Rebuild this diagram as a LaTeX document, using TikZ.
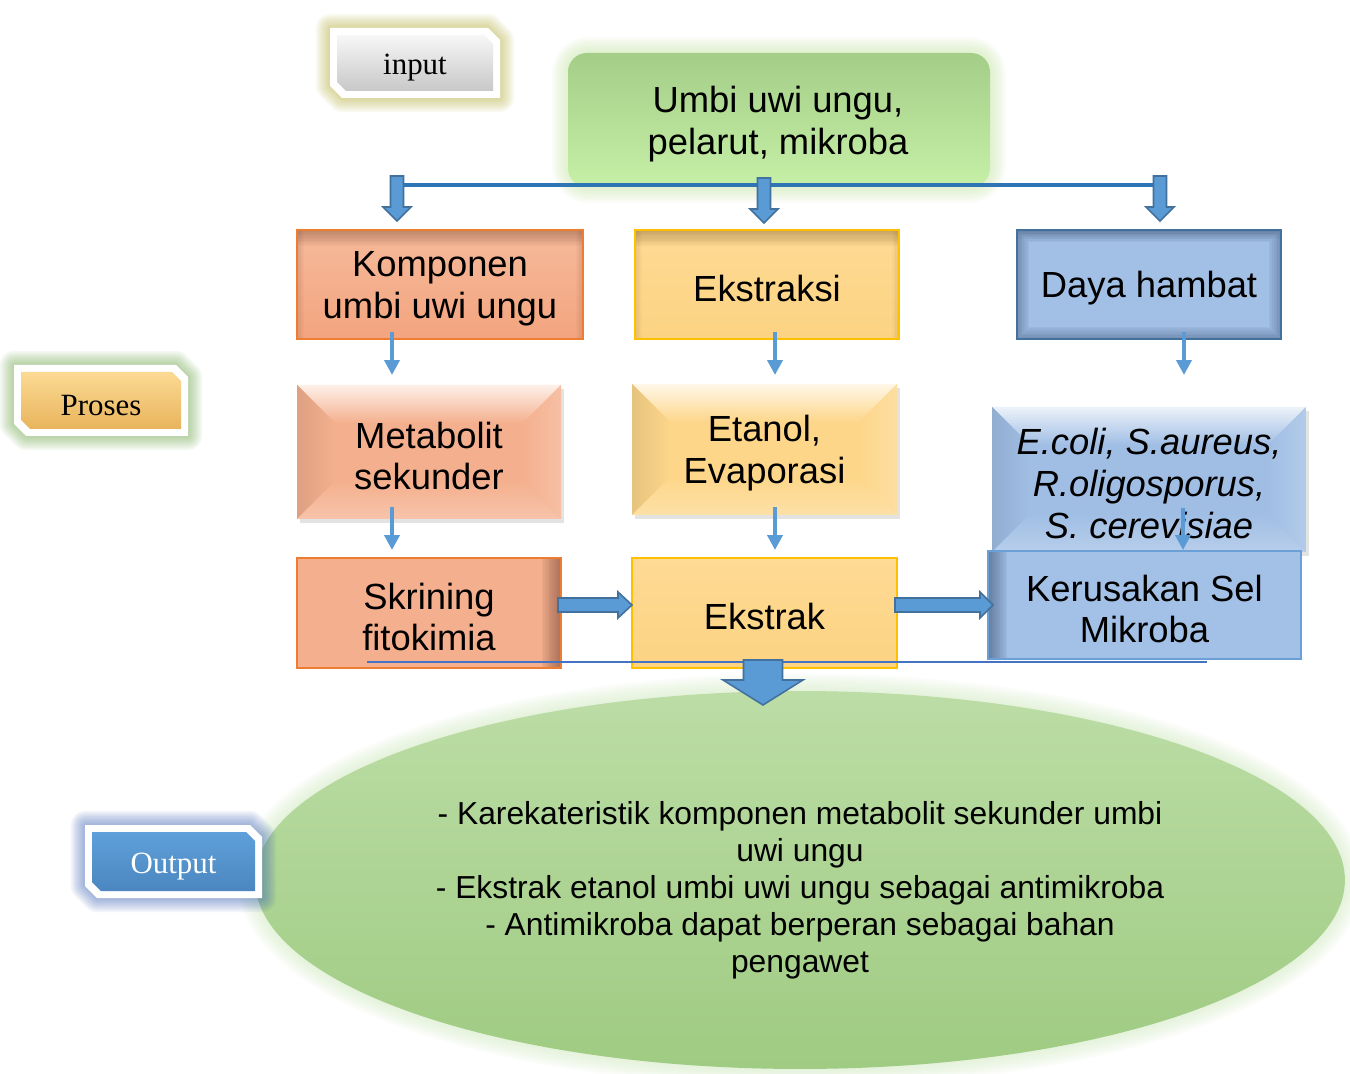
\documentclass[tikz,border=0pt]{standalone}
\usepackage{fontspec}
\setmainfont{Liberation Sans}
\newfontfamily\lblfont{Liberation Serif}
\usetikzlibrary{arrows.meta,shapes.geometric,shadows}

\definecolor{salm}{HTML}{F4B08E}
\definecolor{salmT}{HTML}{F6BA9A}
\definecolor{salmB}{HTML}{F3A47F}
\definecolor{salmE}{HTML}{ED7D31}
\definecolor{salmD}{HTML}{6E4030}
\definecolor{yel}{HTML}{FDD68A}
\definecolor{yelT}{HTML}{FEDA94}
\definecolor{yelB}{HTML}{FCD382}
\definecolor{yelE}{HTML}{FFC000}
\definecolor{yelD}{HTML}{7A5A28}
\definecolor{blu}{HTML}{A0BEE4}
\definecolor{bluK}{HTML}{A3C0E6}
\definecolor{bluH}{HTML}{A2BFE5}
\definecolor{bluE}{HTML}{41719C}
\definecolor{bluE2}{HTML}{6A9FD8}
\definecolor{bluD}{HTML}{2E4666}
\definecolor{arrF}{HTML}{5B9BD5}
\definecolor{arrE}{HTML}{41719C}
\definecolor{lineC}{HTML}{2E75B6}
\definecolor{line2}{HTML}{4472C4}
\definecolor{grnT}{HTML}{A4CE88}
\definecolor{grnB}{HTML}{C6F0A6}
\definecolor{grnGlow}{HTML}{CDEBB0}
\definecolor{ovT}{HTML}{BCDDA6}
\definecolor{ovB}{HTML}{9FCB82}
\definecolor{ovGlow}{HTML}{D8EFC8}
\definecolor{glowY}{HTML}{B8B23C}
\definecolor{glowG}{HTML}{6FA848}
\definecolor{glowB}{HTML}{3F66B8}
\definecolor{inT}{HTML}{F7F7F7}
\definecolor{inB}{HTML}{C8C8C8}
\definecolor{prT}{HTML}{FCDA94}
\definecolor{prB}{HTML}{E8B45C}
\definecolor{ouT}{HTML}{5FA0DA}
\definecolor{ouB}{HTML}{4B86C0}

\newcommand\chamf[5]{(#1,#2) -- ({#3-#5},#2) -- (#3,{#2+#5}) -- (#3,#4) -- ({#1+#5},#4) -- (#1,{#4-#5}) -- cycle}
\newcommand\mkbox[7]{%
  \node[#6, minimum width={(#4-#2)*0.02cm}, minimum height={(#5-#3)*0.02cm}, inner sep=0pt] (#1) at ({(#2+#4)/2},{(#3+#5)/2}) {};
  \node[boxtxt] (#1-t) at ({(#2+#4)/2},{(#3+#5)/2+4}) {#7};}
\newcommand\darrow[6]{\filldraw[blk] ({#1-#4},#2) -- ({#1+#4},#2) -- ({#1+#4},{#3-#6}) -- ({#1+#5},{#3-#6}) -- (#1,#3) -- ({#1-#5},{#3-#6}) -- ({#1-#4},{#3-#6}) -- cycle;}
\newcommand\rarrow[6]{\filldraw[blk] (#1,{#3-#4}) -- ({#2-#6},{#3-#4}) -- ({#2-#6},{#3-#5}) -- (#2,#3) -- ({#2-#6},{#3+#5}) -- ({#2-#6},{#3+#4}) -- (#1,{#3+#4}) -- cycle;}
\newcommand\lbl[9]{%
  \foreach \w in {2,4,...,16}{\draw[#5, line width=\w pt, opacity=0.07, line join=round] \chamf{#1}{#2}{#3}{#4}{12};}
  \fill[white] \chamf{#1}{#2}{#3}{#4}{12};
  \shade[top color=#6, bottom color=#7] \chamf{#1+7}{#2+7}{#3-7}{#4-7}{9};
  \node[lbltxt] (#8) at ({(#1+#3)/2},{(#2+#4)/2+5}) {#9};
}

\begin{document}
\begin{tikzpicture}[x=0.02cm,y=-0.02cm,
  boxtxt/.style={font=\fontsize{20.7}{23.8}\selectfont, align=center, text=black},
  ovtxt/.style={font=\fontsize{18.1}{21}\selectfont, align=center, text=black},
  lbltxt/.style={font=\lblfont\fontsize{17.6}{20}\selectfont},
  thinarr/.style={draw=arrF, line width=2.2pt, -{Triangle[width=8.5pt,length=8.5pt]}},
  blk/.style={fill=arrF, draw=arrE, line width=0.9pt, line join=miter},
  topsh/.style={path picture={\foreach \w in {2,4,...,18}{\draw[#1,line width=\w pt,opacity=0.05] (path picture bounding box.north west) -- (path picture bounding box.north east);}
     \foreach \w in {2,4,...,8}{\draw[#1,line width=\w pt,opacity=0.04] (path picture bounding box.north west) -- (path picture bounding box.south west) (path picture bounding box.north east) -- (path picture bounding box.south east);}}},
  rightsh/.style={path picture={\foreach \w in {2,4,...,22}{\draw[#1,line width=\w pt,opacity=0.06] (path picture bounding box.north east) -- (path picture bounding box.south east);}}},
  leftsh/.style={path picture={\foreach \w in {2,4,...,22}{\draw[#1,line width=\w pt,opacity=0.06] (path picture bounding box.north west) -- (path picture bounding box.south west);}}},
  allsh/.style={path picture={\foreach \w in {2,4,...,14}{\draw[#1,line width=\w pt,opacity=0.06] (path picture bounding box.north west) rectangle (path picture bounding box.south east);}
     \foreach \w in {2,4,...,10}{\draw[#1,line width=\w pt,opacity=0.04] (path picture bounding box.north west) -- (path picture bounding box.north east);}}},
  bevel/.style={fill=#1, drop shadow={opacity=0.22, shadow xshift=1.5pt, shadow yshift=-2pt},
    path picture={
      \coordinate (bNW) at (path picture bounding box.north west);
      \coordinate (bNE) at (path picture bounding box.north east);
      \coordinate (bSW) at (path picture bounding box.south west);
      \coordinate (bSE) at (path picture bounding box.south east);
      \shade[top color=white!80!#1, bottom color=#1] (bNW) -- (bNE) -- ([xshift=-0.76cm,yshift=-0.76cm]bNE) -- ([xshift=0.76cm,yshift=-0.76cm]bNW) -- cycle;
      \shade[left color=black!9!#1, right color=#1] (bNW) -- ([xshift=0.76cm,yshift=-0.76cm]bNW) -- ([xshift=0.76cm,yshift=0.76cm]bSW) -- (bSW) -- cycle;
      \shade[top color=#1, bottom color=white!25!#1] (bSW) -- ([xshift=0.76cm,yshift=0.76cm]bSW) -- ([xshift=-0.76cm,yshift=0.76cm]bSE) -- (bSE) -- cycle;
      \shade[left color=#1, right color=white!20!#1] (bNE) -- ([xshift=-0.76cm,yshift=-0.76cm]bNE) -- ([xshift=-0.76cm,yshift=0.76cm]bSE) -- (bSE) -- cycle;
    }}
]
\useasboundingbox (0,0) rectangle (1350,1074);
\fill[white] (0,0) rectangle (1350,1074);

% ---------- top source box ----------
\foreach \w in {2,4,...,18}{\draw[grnGlow, line width=\w pt, opacity=0.08, rounded corners=0.4cm] (568,53) rectangle (990,187);}
\shade[top color=grnT, middle color=grnT, bottom color=grnB, rounded corners=0.38cm] (568,53) rectangle (990,187);
\node[boxtxt] (src) at (778,124) {Umbi uwi ungu,\\pelarut, mikroba};

% distribution line and arrows
\coordinate (dl) at (397,185);
\coordinate (dr) at (1160,185);
\draw[lineC, line width=2.3pt] (dl) -- (dr);
\darrow{397}{176}{221}{6.5}{14}{14}
\darrow{764}{178}{223}{6.5}{14}{14}
\darrow{1160}{176}{221}{6.5}{14}{14}

% ---------- row 1 ----------
\mkbox{kom}{297}{230}{583}{339}{draw=salmE, line width=0.9pt, top color=salmT, bottom color=salmB, topsh=salmD}{Komponen\\umbi uwi ungu}
\mkbox{eks}{635}{230}{899}{339}{draw=yelE, line width=0.9pt, top color=yelT, bottom color=yelB, topsh=yelD}{Ekstraksi}
\mkbox{daya}{1017}{230}{1281}{339}{draw=bluE, line width=0.9pt, fill=bluH, allsh=bluD}{Daya hambat}

% ---------- row 2 ----------
\mkbox{meta}{297}{385}{561}{519}{bevel=salm}{Metabolit\\sekunder}
\mkbox{etan}{632}{384}{897}{515}{bevel=yel}{Etanol,\\Evaporasi}
\mkbox{ecol}{992}{407}{1306}{552}{bevel=blu}{\itshape E.coli, S.aureus,\\\itshape R.oligosporus,\\\itshape S. cerevisiae}

% ---------- row 3 ----------
\mkbox{skr}{297}{558}{561}{668}{draw=salmE, line width=0.9pt, fill=salm, rightsh=salmD}{Skrining\\fitokimia}
\mkbox{ekst}{632}{558}{897}{668}{draw=yelE, line width=0.9pt, top color=yelT, bottom color=yelB}{Ekstrak}
\mkbox{ker}{988}{551}{1301}{659}{draw=bluE2, line width=0.9pt, fill=bluK, leftsh=bluD}{Kerusakan Sel\\Mikroba}

% thin arrows
\coordinate (t1a) at (392,332); \coordinate (t1b) at (392,375);
\coordinate (t2a) at (775,332); \coordinate (t2b) at (775,375);
\coordinate (t3a) at (1184,332); \coordinate (t3b) at (1184,375);
\coordinate (t4a) at (392,507); \coordinate (t4b) at (392,550);
\coordinate (t5a) at (775,507); \coordinate (t5b) at (775,550);
\coordinate (t6a) at (1183,508); \coordinate (t6b) at (1183,550);
\draw[thinarr] (t1a) -- (t1b);
\draw[thinarr] (t2a) -- (t2b);
\draw[thinarr] (t3a) -- (t3b);
\draw[thinarr] (t4a) -- (t4b);
\draw[thinarr] (t5a) -- (t5b);
\draw[thinarr] (t6a) -- (t6b);

% right block arrows
\rarrow{558}{632}{605}{7}{13}{14}
\rarrow{895}{993}{605}{7}{13}{13}

% ---------- output ellipse ----------
\foreach \w in {2,4,...,20}{\draw[ovGlow, line width=\w pt, opacity=0.08] (800,880) ellipse [x radius=10.9cm, y radius=3.78cm];}
\node[ellipse, minimum width=21.8cm, minimum height=7.56cm, inner sep=0pt, top color=ovT, bottom color=ovB] (oval) at (800,880) {};
\node[ovtxt] (otext) at (800,890) {- Karekateristik komponen metabolit sekunder umbi\\uwi ungu\\- Ekstrak etanol umbi uwi ungu sebagai antimikroba\\- Antimikroba dapat berperan sebagai bahan\\pengawet};

% bottom collecting line and big arrow
\coordinate (bl) at (367,662);
\coordinate (br) at (1207,662);
\draw[line2, line width=1.7pt] (bl) -- (br);
\darrow{763}{660}{705}{19.5}{40}{25}

% ---------- side labels ----------
\lbl{330}{28}{500}{98}{glowY}{inT}{inB}{linput}{input}
\lbl{14}{365}{188}{436}{glowG}{prT}{prB}{lproses}{Proses}
\lbl{85}{825}{262}{898}{glowB}{ouT}{ouB}{loutput}{\textcolor{white}{Output}}
\end{tikzpicture}
\end{document}
